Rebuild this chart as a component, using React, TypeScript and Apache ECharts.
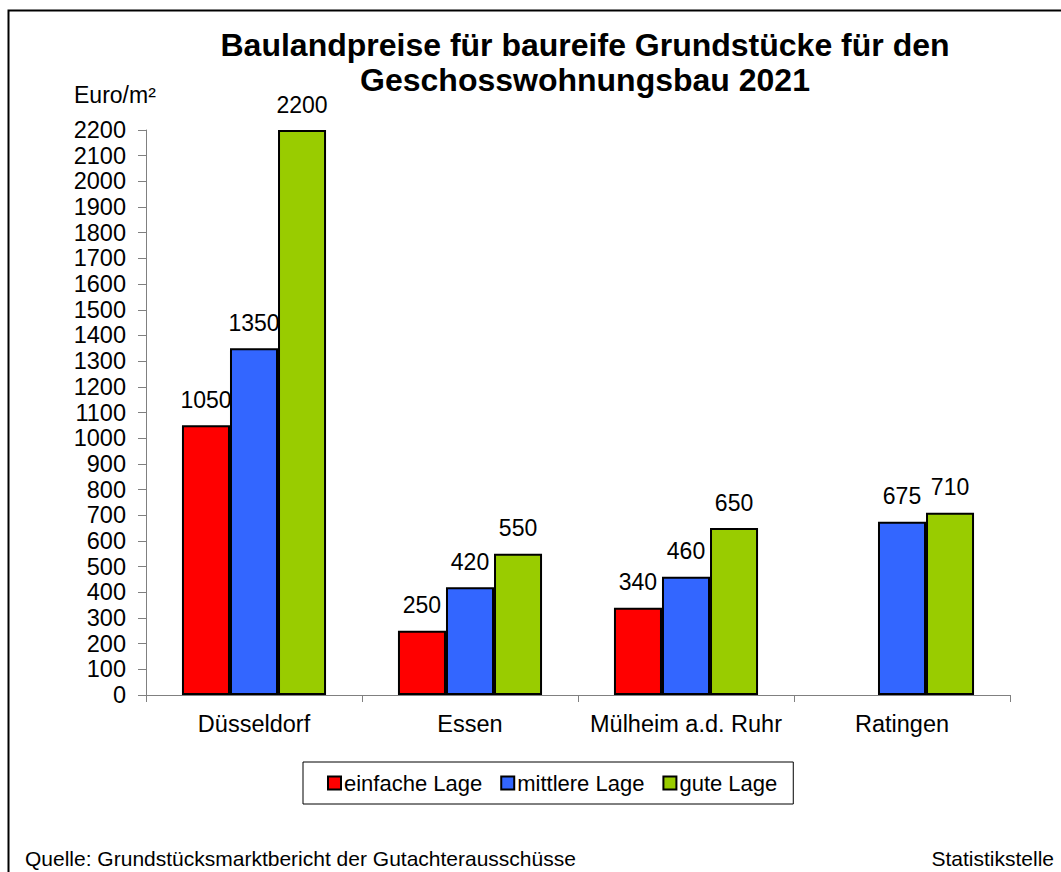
import React, { useEffect, useRef } from "react";
import * as echarts from "echarts";

const categories = ["Düsseldorf", "Essen", "Mülheim a.d. Ruhr", "Ratingen"];
const seriesNames = ["einfache Lage", "mittlere Lage", "gute Lage"];
const einfache: (number | null)[] = [1050, 250, 340, null];
const mittlere: number[] = [1350, 420, 460, 675];
const gute: number[] = [2200, 550, 650, 710];
const colors = ["#FF0000", "#3366FF", "#99CC00"];

const FONT = "Arial, 'Liberation Sans', sans-serif";

export default function App() {
  const ref = useRef<HTMLDivElement>(null);
  useEffect(() => {
    if (!ref.current) return;
    const chart = echarts.init(ref.current, undefined, { renderer: "svg" });
    const mkSeries = (name: string, data: (number | null)[], color: string) => ({
      name,
      type: "bar",
      data,
      barGap: "0%",
      barCategoryGap: "33.3%",
      itemStyle: { color, borderColor: "#000", borderWidth: 2 },
      label: {
        show: true,
        position: "top",
        distance: 14,
        color: "#000",
        fontSize: 23,
        fontFamily: FONT,
      },
    });
    chart.setOption({
      animation: false,
      backgroundColor: "#fff",
      textStyle: { fontFamily: FONT },
      title: {
        text: "Baulandpreise für baureife Grundstücke für den\nGeschosswohnungsbau 2021",
        left: 580,
        top: 22,
        textAlign: "center",
        textStyle: {
          fontSize: 32,
          fontWeight: "bold",
          color: "#000",
          fontFamily: FONT,
          lineHeight: 35,
        },
      },
      grid: { left: 146, right: 51, top: 130, bottom: 177, containLabel: false },
      legend: {
        data: seriesNames,
        left: 303,
        top: 762,
        orient: "horizontal",
        itemWidth: 13,
        itemHeight: 13,
        itemGap: 18,
        padding: [10, 16, 10, 24],
        borderColor: "#000",
        borderWidth: 1,
        icon: "rect",
        itemStyle: { borderColor: "#000", borderWidth: 2 },
        textStyle: { fontSize: 22, color: "#000", fontFamily: FONT, padding: [0, 0, 0, -2] },
      },
      xAxis: {
        type: "category",
        data: categories,
        axisLine: { show: true, lineStyle: { color: "#808080", width: 1 } },
        axisTick: { show: true, length: 7, lineStyle: { color: "#808080" } },
        axisLabel: { color: "#000", fontSize: 23.5, margin: 17, fontFamily: FONT, interval: 0 },
      },
      yAxis: {
        type: "value",
        min: 0,
        max: 2200,
        interval: 100,
        splitLine: { show: false },
        axisLine: { show: true, lineStyle: { color: "#808080", width: 1 } },
        axisTick: { show: true, length: 8, lineStyle: { color: "#808080" } },
        axisLabel: {
          color: "#000",
          fontSize: 23.5,
          margin: 20,
          fontFamily: FONT,
          formatter: (v: number) => String(v),
        },
      },
      series: [
        mkSeries(seriesNames[0], einfache, colors[0]),
        mkSeries(seriesNames[1], mittlere, colors[1]),
        mkSeries(seriesNames[2], gute, colors[2]),
      ],
      graphic: [
        {
          type: "rect",
          shape: { x: 8.5, y: 10.5, width: 1080, height: 900 },
          style: { fill: "none", stroke: "#000", lineWidth: 2 },
          silent: true,
        },
        {
          type: "text",
          x: 74,
          y: 95,
          style: {
            text: "Euro/m²",
            fontSize: 23,
            fill: "#000",
            fontFamily: FONT,
            verticalAlign: "middle",
            align: "left",
          },
        },
        {
          type: "text",
          x: 25,
          y: 858,
          style: {
            text: "Quelle: Grundstücksmarktbericht der Gutachterausschüsse",
            fontSize: 21,
            fill: "#000",
            fontFamily: FONT,
            verticalAlign: "middle",
            align: "left",
          },
        },
        {
          type: "text",
          x: 1054,
          y: 858,
          style: {
            text: "Statistikstelle",
            fontSize: 21,
            fill: "#000",
            fontFamily: FONT,
            verticalAlign: "middle",
            align: "right",
          },
        },
      ],
    });
    return () => chart.dispose();
  }, []);
  return (
    <div
      ref={ref}
      style={{ position: "absolute", left: 0, top: 0, width: 1061, height: 872 }}
    />
  );
}
